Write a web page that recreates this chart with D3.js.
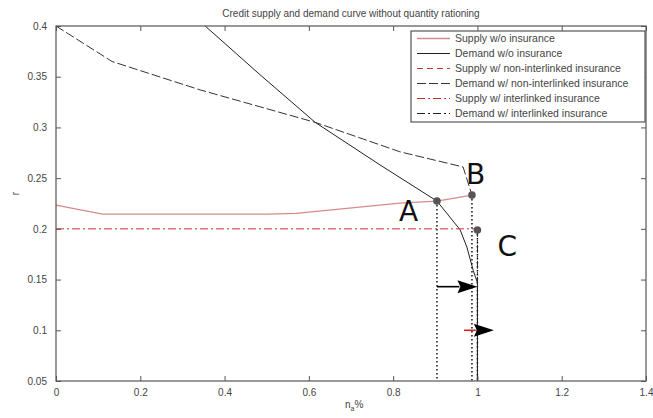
<!DOCTYPE html>
<html>
<head>
<meta charset="utf-8">
<script src="https://cdn.jsdelivr.net/npm/d3@7"></script>
<style>
  body { margin: 0; background: #fff; }
  text { font-family: "Liberation Sans", Arial, sans-serif; fill: #444; }
</style>
</head>
<body>
<svg id="chart" width="653" height="418"></svg>
<script>
// values: [n_a, r]
var supplyNoIns = [[0, 0.2235], [0.11, 0.2146], [0.5, 0.2146], [0.57, 0.2152], [0.816, 0.2254], [0.904, 0.2274], [0.987, 0.2333]]
var demandNoIns = [[0.354, 0.4], [0.484, 0.352], [0.615, 0.305], [0.769, 0.263], [0.904, 0.2274], [0.959, 0.199], [0.975, 0.182], [0.99, 0.159], [1.0, 0.147], [1.0, 0.05]]
var supplyNonInter = []
var demandNonInter = [[0, 0.4], [0.133, 0.365], [0.342, 0.337], [0.615, 0.305], [0.816, 0.276], [0.966, 0.261], [0.987, 0.2333]]
var supplyInter = [[0, 0.2], [1.0, 0.2]]
var demandInter = [[1.0, 0.2], [1.0, 0.05]]

var points = [
  {name: 'A', x: 0.904, r: 0.2274},
  {name: 'B', x: 0.987, r: 0.2333},
  {name: 'C', x: 1.0, r: 0.1988}
]
var arrows = [
  {from: 0.904, to: 1.0, r: 0.143, shaft: '#000'},
  {from: 0.968, to: 1.039, r: 0.1, shaft: '#e02020'}
]
var xTicks = [0, 0.2, 0.4, 0.6, 0.8, 1, 1.2, 1.4]
var yTicks = [0.05, 0.1, 0.15, 0.2, 0.25, 0.3, 0.35, 0.4]
var legendNames = [
  'Supply w/o insurance',
  'Demand w/o insurance',
  'Supply w/ non-interlinked insurance',
  'Demand w/ non-interlinked insurance',
  'Supply w/ interlinked insurance',
  'Demand w/ interlinked insurance'
]

var svg = d3.select('#chart')
var margin = {top: 26, right: 7, bottom: 37, left: 56}
var width = 653 - margin.left - margin.right
var height = 418 - margin.top - margin.bottom

var x = d3.scaleLinear().domain([0, 1.4]).range([0, width])
var y = d3.scaleLinear().domain([0.05, 0.4]).range([height, 0])

var g = svg.append('g')
    .attr('transform', `translate(${margin.left},${margin.top})`)

var line = d3.line()
    .x(d => x(d[0]))
    .y(d => y(d[1]))

// series styles
var series = [
  {data: supplyNoIns, color: '#d88a8a', dash: null, w: 1.3},
  {data: demandNoIns, color: '#222', dash: null, w: 1},
  {data: supplyNonInter, color: '#c83232', dash: '6,4', w: 1},
  {data: demandNonInter, color: '#333', dash: '9,3', w: 1},
  {data: supplyInter, color: '#c83232', dash: '8,3,2,3', w: 1},
  {data: demandInter, color: '#222', dash: '8,3,2,3', w: 1}
]

/*
    --------------------------------------
    Guide lines (dotted drops)
*/
g.selectAll('.drop')
    .data(points)
    .enter()
    .append('line')
    .classed('drop', true)
    .attr('x1', d => x(d.x))
    .attr('x2', d => x(d.x))
    .attr('y1', d => y(d.r))
    .attr('y2', y(0.05))
    .attr('stroke', '#000')
    .attr('stroke-width', 1.4)
    .attr('stroke-dasharray', '1.5,2.5')

g.selectAll('.series')
    .data(series)
    .enter()
    .append('path')
    .classed('series', true)
    .attr('d', d => d.data.length ? line(d.data) : null)
    .attr('fill', 'none')
    .attr('stroke', d => d.color)
    .attr('stroke-width', d => d.w)
    .attr('stroke-dasharray', d => d.dash)

/*
    --------------------------------------
    Axes box with inward ticks
*/
var frame = g.append('g').classed('frame', true)

frame.append('rect')
    .attr('width', width)
    .attr('height', height)
    .attr('fill', 'none')
    .attr('stroke', '#555')
    .attr('stroke-width', 1.2)

var axisStyle = function (sel) {
  sel.select('.domain').remove()
  sel.selectAll('.tick line').attr('stroke', '#555')
  sel.selectAll('.tick text')
      .attr('fill', '#555')
      .style('font-size', '10px')
      .style('font-family', '"Liberation Sans", Arial, sans-serif')
}

frame.append('g')
    .attr('transform', `translate(0,${height})`)
    .call(d3.axisBottom(x).tickValues(xTicks).tickFormat(d3.format('')).tickSizeInner(-5).tickPadding(8))
    .call(axisStyle)

frame.append('g')
    .call(d3.axisTop(x).tickValues(xTicks).tickSizeInner(-5).tickFormat(''))
    .call(axisStyle)

frame.append('g')
    .call(d3.axisLeft(y).tickValues(yTicks).tickFormat(d3.format('')).tickSizeInner(-5).tickPadding(9))
    .call(axisStyle)

frame.append('g')
    .attr('transform', `translate(${width},0)`)
    .call(d3.axisRight(y).tickValues(yTicks).tickSizeInner(-5).tickFormat(''))
    .call(axisStyle)

/*
    --------------------------------------
    Arrows
*/
var arrow = g.selectAll('.arrow')
    .data(arrows)
    .enter()
    .append('g')
    .classed('arrow', true)

arrow.append('line')
    .attr('x1', d => x(d.from))
    .attr('x2', d => x(d.to) - 18)
    .attr('y1', d => y(d.r))
    .attr('y2', d => y(d.r))
    .attr('stroke', d => d.shaft)
    .attr('stroke-width', 1.6)

arrow.append('path')
    .attr('d', d => {
      var tx = x(d.to)
      var ty = y(d.r)
      return `M${tx},${ty}L${tx - 20},${ty - 6.5}L${tx - 17},${ty}L${tx - 20},${ty + 6.5}Z`
    })
    .attr('fill', '#000')

/*
    --------------------------------------
    Marked points and letters
*/
g.selectAll('.dot')
    .data(points)
    .enter()
    .append('circle')
    .classed('dot', true)
    .attr('cx', d => x(d.x))
    .attr('cy', d => y(d.r))
    .attr('r', 3.8)
    .attr('fill', '#555')

var labelOffset = {A: [-38, 20], B: [-6, -11], C: [20, 26]}

g.selectAll('.letter')
    .data(points)
    .enter()
    .append('text')
    .classed('letter', true)
    .attr('x', d => x(d.x) + labelOffset[d.name][0])
    .attr('y', d => y(d.r) + labelOffset[d.name][1])
    .text(d => d.name)
    .style('font-family', '"DejaVu Sans", sans-serif')
    .style('font-size', '28px')
    .style('fill', '#111')

/*
    --------------------------------------
    Legend
*/
var legend = g.append('g')
    .attr('transform', `translate(${355},${5})`)

legend.append('rect')
    .attr('width', 234)
    .attr('height', 91)
    .attr('fill', '#fff')
    .attr('stroke', '#555')
    .attr('stroke-width', 1.2)

var item = legend.selectAll('.item')
    .data(legendNames)
    .enter()
    .append('g')
    .classed('item', true)
    .attr('transform', (d, i) => `translate(0,${7.5 + i * 15})`)

item.append('line')
    .attr('x1', 6)
    .attr('x2', 39)
    .attr('stroke', (d, i) => series[i].color)
    .attr('stroke-width', (d, i) => series[i].w)
    .attr('stroke-dasharray', (d, i) => series[i].dash)

item.append('text')
    .attr('x', 44)
    .attr('dy', '0.35em')
    .text(d => d)
    .style('font-size', '10.5px')

/*
    --------------------------------------
    Titles
*/
svg.append('text')
    .attr('x', margin.left + width / 2)
    .attr('y', 17)
    .attr('text-anchor', 'middle')
    .style('font-size', '10px')
    .text('Credit supply and demand curve without quantity rationing')

var xl = svg.append('text')
    .attr('x', margin.left + width / 2 - 6)
    .attr('y', 408)
    .style('font-size', '10px')

xl.append('tspan').text('n')
xl.append('tspan').attr('dy', 3).style('font-size', '7px').text('a')
xl.append('tspan').attr('dy', -3).text('%')

svg.append('text')
    .attr('transform', `translate(19,${margin.top + height / 2 - 10}) rotate(-90)`)
    .attr('text-anchor', 'middle')
    .style('font-size', '10px')
    .text('r')
</script>
</body>
</html>
